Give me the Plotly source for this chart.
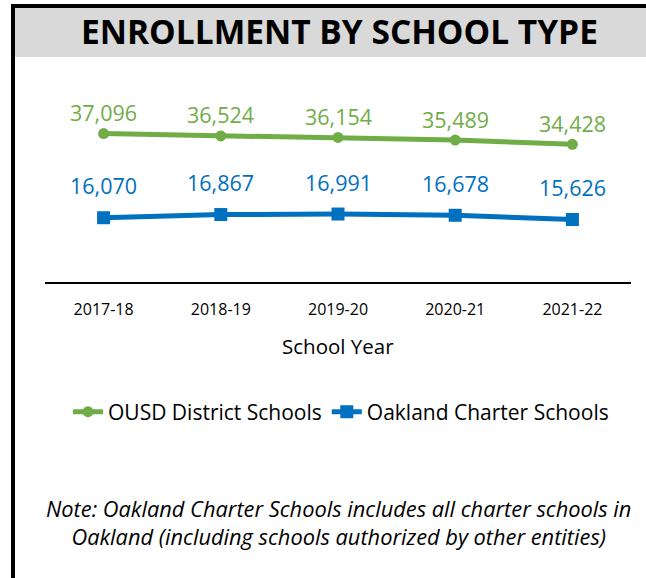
import plotly.graph_objects as go

years = ["2017-18", "2018-19", "2019-20", "2020-21", "2021-22"]
district = [37096, 36524, 36154, 35489, 34428]
charter = [16070, 16867, 16991, 16678, 15626]

GREEN = "#70AD47"
BLUE = "#0070C0"
FONT = "Open Sans"

W, H = 646, 578
L, R, T, B = 45, 15, 102, 296
PW, PH = W - L - R, H - T - B


def px(x):
    return (x - L) / PW


def py(y):
    return (H - B - y) / PH


fig = go.Figure()
fig.add_trace(go.Scatter(
    x=years, y=district, name="OUSD District Schools", mode="lines+markers",
    line=dict(color=GREEN, width=5), marker=dict(symbol="circle", size=11, color=GREEN),
))
fig.add_trace(go.Scatter(
    x=years, y=charter, name="Oakland Charter Schools", mode="lines+markers",
    line=dict(color=BLUE, width=5), marker=dict(symbol="square", size=13, color=BLUE),
))

anns = []
for xv, yv in zip(years, district):
    anns.append(dict(x=xv, y=yv, text=f"{yv:,}", showarrow=False, yshift=21,
                     font=dict(family=FONT, size=21.5, color=GREEN)))
for xv, yv in zip(years, charter):
    anns.append(dict(x=xv, y=yv, text=f"{yv:,}", showarrow=False, yshift=32,
                     font=dict(family=FONT, size=21.5, color=BLUE)))

anns.append(dict(xref="paper", yref="paper", x=px(339), y=py(31), text="<b>ENROLLMENT BY SCHOOL TYPE</b>",
                 showarrow=False, xanchor="center", yanchor="middle",
                 font=dict(family=FONT, size=33.5, color="black")))
anns.append(dict(xref="paper", yref="paper", x=px(338), y=py(346), text="School Year",
                 showarrow=False, xanchor="center", yanchor="middle",
                 font=dict(family=FONT, size=20.5, color="black")))
anns.append(dict(xref="paper", yref="paper", x=px(338), y=py(522),
                 text="<i>Note: Oakland Charter Schools includes all charter schools in<br>Oakland (including schools authorized by other entities)</i>",
                 showarrow=False, xanchor="center", yanchor="middle", align="center",
                 font=dict(family=FONT, size=21.8, color="black")))

shapes = [
    # gray title band
    dict(type="rect", xref="paper", yref="paper", x0=px(15), x1=px(646), y0=py(57), y1=py(8),
         fillcolor="#D9D9D9", line=dict(width=0), layer="below"),
    # top black border
    dict(type="rect", xref="paper", yref="paper", x0=px(11), x1=px(646), y0=py(8), y1=py(4),
         fillcolor="black", line=dict(width=0)),
    # left black border
    dict(type="rect", xref="paper", yref="paper", x0=px(11), x1=px(15), y0=py(578), y1=py(4),
         fillcolor="black", line=dict(width=0)),
]

fig.update_layout(
    width=W, height=H,
    margin=dict(l=L, r=R, t=T, b=B),
    paper_bgcolor="white", plot_bgcolor="white",
    showlegend=True,
    legend=dict(orientation="h", x=px(341), xanchor="center", y=py(412), yanchor="middle",
                font=dict(family=FONT, size=21, color="black"), itemwidth=30,
                tracegroupgap=0),
    annotations=anns,
    shapes=shapes,
    font=dict(family=FONT),
)
fig.update_xaxes(showgrid=False, showline=True, linecolor="black", linewidth=2,
                 ticks="", tickfont=dict(family=FONT, size=16, color="black"),
                 range=[-0.5, 4.5], zeroline=False, ticklabelstandoff=12)
fig.update_yaxes(range=[0, 45000], showgrid=False, showticklabels=False, zeroline=False,
                 showline=False)

fig.write_html("out.html", config={"displayModeBar": False},
               post_script="document.body.style.margin='0px';")
